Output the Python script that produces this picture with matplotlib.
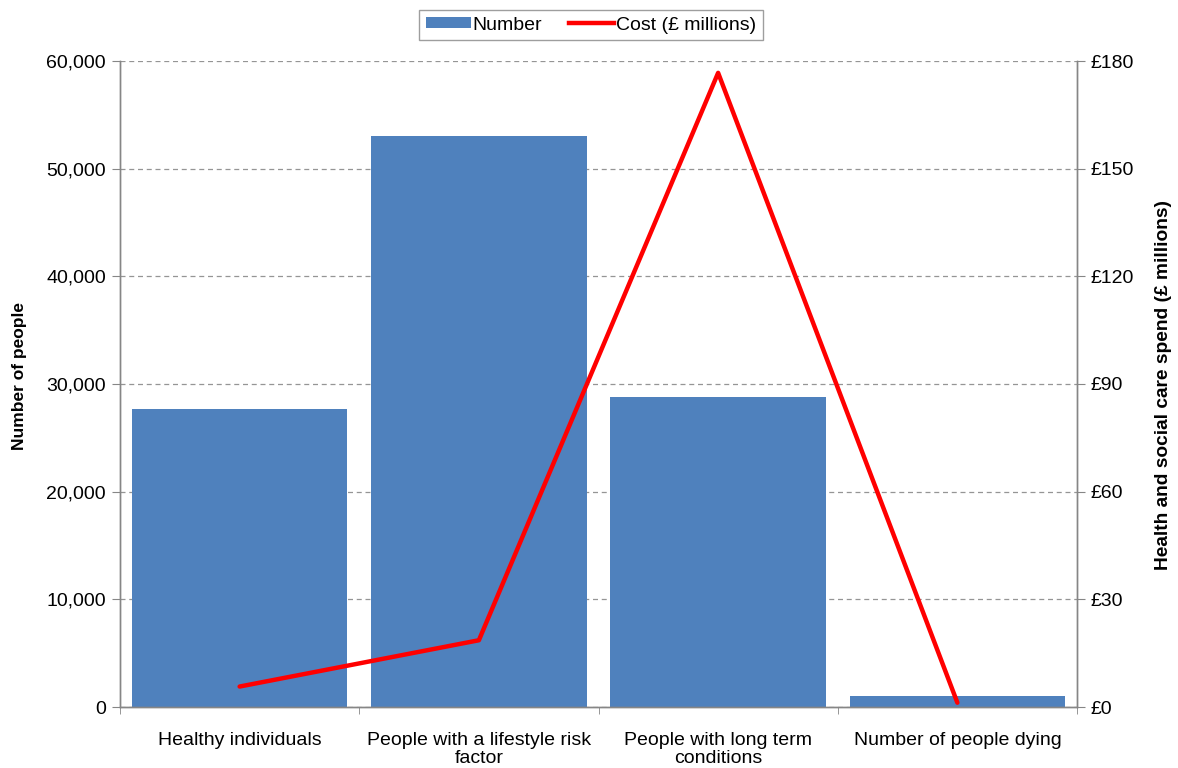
import matplotlib
matplotlib.use("Agg")
import matplotlib.pyplot as plt
from matplotlib.patches import Patch
from matplotlib.lines import Line2D
import numpy as np

plt.rcParams['font.family'] = ['Liberation Sans', 'DejaVu Sans']

categories = ["Healthy individuals", "People with a lifestyle risk\nfactor",
              "People with long term\nconditions", "Number of people dying"]
number_people = [27700, 53000, 28800, 1000]
cost_millions = [5.7, 18.6, 176.7, 1.2]
left_ticks = [0, 10000, 20000, 30000, 40000, 50000, 60000]
right_ticks = [0, 30, 60, 90, 120, 150, 180]

bar_color = "#4F81BD"
line_color = "#FF0000"
axis_gray = "#868686"

fig = plt.figure(figsize=(11.78, 7.68), dpi=100)
ax = fig.add_axes([120/1178, 1-707/768, (1077-120)/1178, (707-61)/768])
ax2 = ax.twinx()

x = np.arange(len(categories))
ax.bar(x, number_people, width=0.9, color=bar_color, zorder=2)
ax.set_xlim(-0.5, len(categories)-0.5)
ax.set_ylim(0, 60000)
ax.set_yticks(left_ticks)
ax.set_yticklabels([f"{v:,}" for v in left_ticks])
ax.yaxis.grid(True, linestyle=(0, (4, 3)), color="#959595", linewidth=0.9)
ax.set_axisbelow(True)

ax.set_xticks(x)
ax.set_xticklabels(categories, fontsize=14, linespacing=1.05)
ax.set_xticks(np.arange(-0.5, len(categories)), minor=True)
ax.tick_params(axis='x', which='major', length=0, pad=18)
ax.tick_params(axis='x', which='minor', length=5, color=axis_gray, direction='out')
ax.tick_params(axis='y', length=6, color=axis_gray, direction='out', labelsize=14, pad=4)

ax2.plot(x, cost_millions, color=line_color, linewidth=3.2, solid_capstyle='round', zorder=5)
ax2.set_ylim(0, 180)
ax2.set_yticks(right_ticks)
ax2.set_yticklabels([f"£{v}" for v in right_ticks])
ax2.tick_params(axis='y', length=6, color=axis_gray, direction='out', labelsize=14, pad=4)

for a in (ax, ax2):
    a.spines['top'].set_visible(False)
    for s in ('left', 'right', 'bottom'):
        a.spines[s].set_color(axis_gray)
        a.spines[s].set_linewidth(1.0)

ax.set_ylabel("Number of people", fontsize=12.5, fontweight='bold')
ax.yaxis.set_label_coords(-93/957, 0.512)
ax2.set_ylabel("Health and social care spend (£ millions)", fontsize=13.8,
               fontweight='bold')
ax2.yaxis.set_label_coords(1 + 78/957, 0.498)

handles = [Patch(facecolor=bar_color, edgecolor='none'),
           Line2D([0], [0], color=line_color, linewidth=3.2)]
leg = fig.legend(handles, ["Number", "Cost (£ millions)"], loc='center',
                 bbox_to_anchor=(591/1178, 1-25/768), ncol=2, fontsize=14,
                 frameon=True, fancybox=False, edgecolor=axis_gray,
                 handlelength=2.3, handleheight=0.5, handletextpad=0.1,
                 columnspacing=1.4, borderpad=0.35, borderaxespad=0)
leg.get_frame().set_linewidth(1.0)

fig.savefig("out.png", dpi=100)
